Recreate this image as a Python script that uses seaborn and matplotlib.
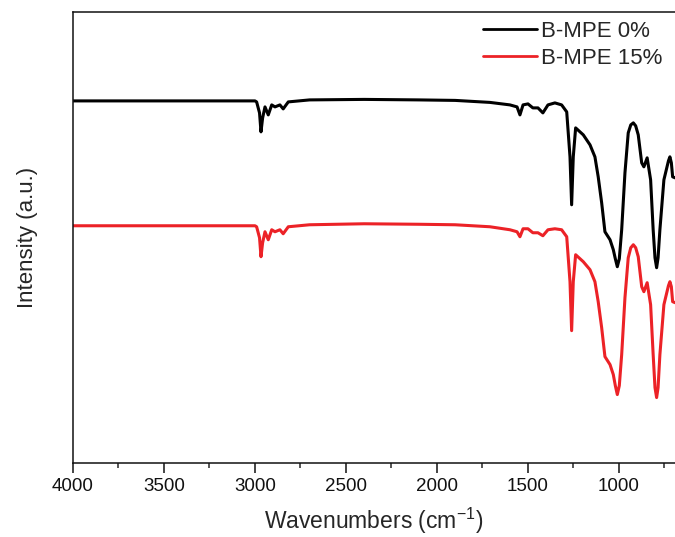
import numpy as np
import pandas as pd
import matplotlib
matplotlib.use("Agg")
import matplotlib.pyplot as plt
from matplotlib.ticker import MultipleLocator
import seaborn as sns

# ---- data (wavenumber in cm^-1, intensity in arbitrary units) ----
wn_black = [4000, 3137, 3000, 2991, 2975, 2967, 2958, 2945, 2927, 2908, 2890, 2863, 2845, 2817,
            2700, 2400, 2100, 1900, 1709, 1599, 1560, 1544, 1527, 1500, 1473, 1445, 1418, 1390,
            1352, 1315, 1287, 1269, 1260, 1251, 1238, 1220, 1196, 1159, 1132, 1114, 1095, 1077,
            1049, 1031, 1020, 1009, 998, 985, 967, 949, 935, 921, 908, 894, 875, 863, 845, 826,
            812, 802, 793, 785, 775, 753, 728, 720, 712, 705, 692]
int_black = [362, 362, 362, 361, 350, 331, 345, 356, 348, 358, 356, 358, 354, 361,
             363, 363.5, 363, 362.5, 360.5, 358, 356, 348, 358, 359, 355, 355, 350, 358,
             360, 358, 351, 306, 258, 306, 335, 332, 328, 318, 306, 286, 260, 231,
             223, 213, 204, 196, 204, 233, 290, 330, 338, 340, 337, 328, 300, 296, 305, 283,
             233, 205, 195, 205, 233, 283, 302, 306, 300, 286, 285]

wn_red = [4000, 3137, 3000, 2991, 2975, 2967, 2958, 2945, 2927, 2908, 2890, 2863, 2845, 2817,
          2700, 2400, 2100, 1900, 1709, 1599, 1560, 1544, 1527, 1500, 1473, 1445, 1418, 1390,
          1352, 1315, 1287, 1269, 1260, 1251, 1238, 1220, 1196, 1159, 1132, 1114, 1095, 1077,
          1049, 1031, 1020, 1009, 998, 985, 967, 949, 935, 921, 908, 894, 875, 863, 845, 826,
          812, 802, 793, 785, 775, 753, 728, 720, 712, 705, 692]
int_red = [237, 237, 237, 236, 225, 206, 220, 231, 223, 233, 231, 233, 229, 236,
           238, 239, 238.5, 238, 236, 233, 231, 226, 234, 234, 230, 230, 227, 233,
           234, 233, 226, 181, 132, 181, 208, 205, 201, 193, 181, 161, 135, 106,
           98, 88, 77, 68, 77, 108, 165, 205, 215, 218, 215, 206, 176, 171, 180, 158,
           108, 75, 65, 75, 108, 158, 177, 181, 176, 161, 160]

series_names = ["B-MPE 0%", "B-MPE 15%"]
series_colors = ["#000000", "#EC2227"]
x_ticks = [4000, 3500, 3000, 2500, 2000, 1500, 1000]

df = pd.concat([
    pd.DataFrame({"wn": wn_black, "I": int_black, "sample": series_names[0]}),
    pd.DataFrame({"wn": wn_red, "I": int_red, "sample": series_names[1]}),
], ignore_index=True)

sns.set_style("ticks")
plt.rcParams["font.family"] = ["Liberation Sans", "DejaVu Sans"]

fig = plt.figure(figsize=(6.75, 5.37), dpi=100)
ax = fig.add_axes([73 / 675, (537 - 462.5) / 537, 1 - 73 / 675, (462.5 - 12) / 537])

sns.lineplot(data=df, x="wn", y="I", hue="sample", palette=series_colors,
             hue_order=series_names, sort=False, estimator=None, linewidth=2.2, ax=ax)
for ln in ax.get_lines():
    ln.set_solid_joinstyle("round")

ax.set_xlim(4000, 692)
ax.set_ylim(0, 451)
ax.set_xticks(x_ticks)
ax.set_xticklabels([str(t) for t in x_ticks])
ax.xaxis.set_minor_locator(MultipleLocator(250))
ax.set_yticks([])
ax.tick_params(axis="x", which="major", direction="out", length=7, width=1.1,
               labelsize=13.5, pad=4, colors="#111111")
ax.tick_params(axis="x", which="minor", direction="out", length=3.5, width=1.1)

for s in ["left", "bottom", "top"]:
    ax.spines[s].set_visible(True)
    ax.spines[s].set_linewidth(1.1)
    ax.spines[s].set_color("#111111")
ax.spines["right"].set_visible(False)

ax.set_xlabel("Wavenumbers (cm$^{\\mathregular{-1}}$)", fontsize=16.5, labelpad=8)
ax.set_ylabel("Intensity (a.u.)", fontsize=16, labelpad=25)

leg = ax.legend(loc="upper left", bbox_to_anchor=(483 / 675, 1 - 21 / 537),
                bbox_transform=fig.transFigure, frameon=False, fontsize=16,
                handlelength=2.45, handletextpad=0.15, labelspacing=0.25,
                borderpad=0, borderaxespad=0)
for line in leg.get_lines():
    line.set_linewidth(2.0)

fig.savefig("out.png", dpi=100)
